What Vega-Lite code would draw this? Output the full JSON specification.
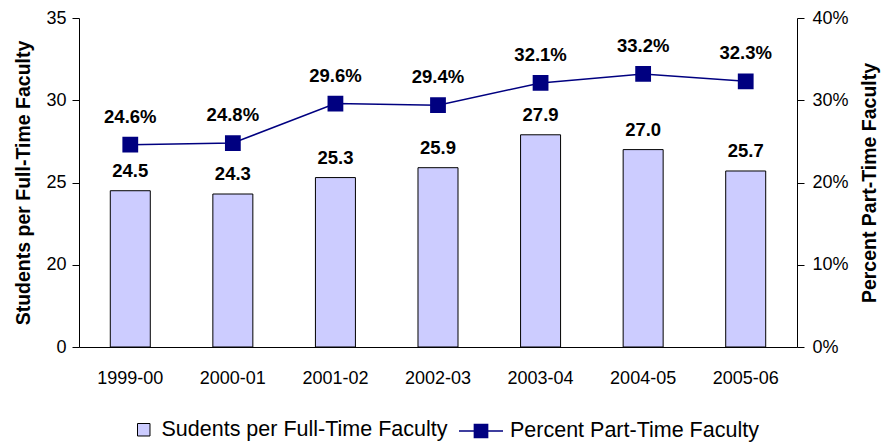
{
  "$schema": "https://vega.github.io/schema/vega-lite/v6.json",
  "width": 718,
  "height": 329,
  "autosize": "none",
  "padding": {"left": 79, "top": 18, "right": 90, "bottom": 96},
  "config": {
    "font": "Liberation Sans",
    "view": {"stroke": null},
    "axis": {
      "grid": false,
      "domainColor": "black",
      "tickColor": "black",
      "labelColor": "black",
      "titleColor": "black",
      "labelFontSize": 18,
      "titleFontSize": 19.5,
      "labelFont": "Liberation Sans",
      "titleFont": "Liberation Sans"
    },
    "legend": {"labelFont": "Liberation Sans", "labelColor": "black", "labelFontSize": 21.5, "labelLimit": 0}
  },
  "data": {
    "values": [
      {"year": "1999-00", "students": 24.5, "parttime": 0.246},
      {"year": "2000-01", "students": 24.3, "parttime": 0.248},
      {"year": "2001-02", "students": 25.3, "parttime": 0.296},
      {"year": "2002-03", "students": 25.9, "parttime": 0.294},
      {"year": "2003-04", "students": 27.9, "parttime": 0.321},
      {"year": "2004-05", "students": 27.0, "parttime": 0.332},
      {"year": "2005-06", "students": 25.7, "parttime": 0.323}
    ]
  },
  "encoding": {
    "x": {
      "field": "year",
      "type": "nominal",
      "sort": null,
      "scale": {"paddingInner": 0, "paddingOuter": 0},
      "axis": {"title": null, "labelAngle": 0, "ticks": false, "labelPadding": 22}
    }
  },
  "layer": [
    {
      "encoding": {
        "y": {
          "field": "students",
          "type": "quantitative",
          "scale": {"domain": [15, 35], "zero": false, "nice": false},
          "axis": {
            "values": [15, 20, 25, 30, 35],
            "labelExpr": "datum.value == 15 ? '0' : datum.label",
            "tickSize": 7,
            "labelPadding": 6,
            "title": "Students per Full-Time Faculty",
            "titleFontWeight": "bold",
            "titlePadding": 12
          }
        }
      },
      "layer": [
        {
          "mark": {"type": "bar", "width": {"band": 0.39}, "stroke": "black", "strokeWidth": 1},
          "encoding": {
            "y2": {"datum": 15},
            "fill": {
              "datum": "Sudents per Full-Time Faculty",
              "type": "nominal",
              "scale": {"range": ["#CCCCFF"]},
              "legend": {
                "title": null,
                "orient": "none",
                "legendX": 54,
                "legendY": 401,
                "symbolType": "square",
                "symbolSize": 156,
                "symbolStrokeColor": "black",
                "symbolStrokeWidth": 1,
                "labelOffset": 7
              }
            }
          }
        },
        {
          "mark": {"type": "text", "fontWeight": "bold", "fontSize": 18.5, "dy": -20, "color": "black"},
          "encoding": {"text": {"field": "students", "type": "quantitative", "format": ".1f"}}
        }
      ]
    },
    {
      "encoding": {
        "y": {
          "field": "parttime",
          "type": "quantitative",
          "scale": {"domain": [0, 0.4], "nice": false},
          "axis": {
            "orient": "right",
            "format": ".0%",
            "values": [0, 0.1, 0.2, 0.3, 0.4],
            "tickSize": 7,
            "labelPadding": 8,
            "title": "Percent Part-Time Faculty",
            "titleFontWeight": "bold",
            "titleAngle": 270,
            "titleBaseline": "top",
            "titlePadding": 12
          }
        }
      },
      "layer": [
        {
          "mark": {
            "type": "line",
            "color": "#000080",
            "strokeWidth": 1.5,
            "point": {"shape": "square", "size": 190, "filled": true, "color": "#000080"}
          },
          "encoding": {
            "stroke": {
              "datum": "Percent Part-Time Faculty",
              "type": "nominal",
              "scale": {"range": ["#000080"]},
              "legend": {
                "title": null,
                "orient": "none",
                "legendX": 379,
                "legendY": 390,
                "symbolType": "M-1,0H1M-0.3,-0.3H0.3V0.3H-0.3Z",
                "symbolSize": 1936,
                "symbolStrokeWidth": 1.5,
                "symbolFillColor": "#000080",
                "labelOffset": 6
              }
            }
          }
        },
        {
          "mark": {"type": "text", "fontWeight": "bold", "fontSize": 18.5, "dy": -28, "color": "black"},
          "encoding": {"text": {"field": "parttime", "type": "quantitative", "format": ".1%"}}
        }
      ]
    }
  ],
  "resolve": {"scale": {"y": "independent"}}
}
